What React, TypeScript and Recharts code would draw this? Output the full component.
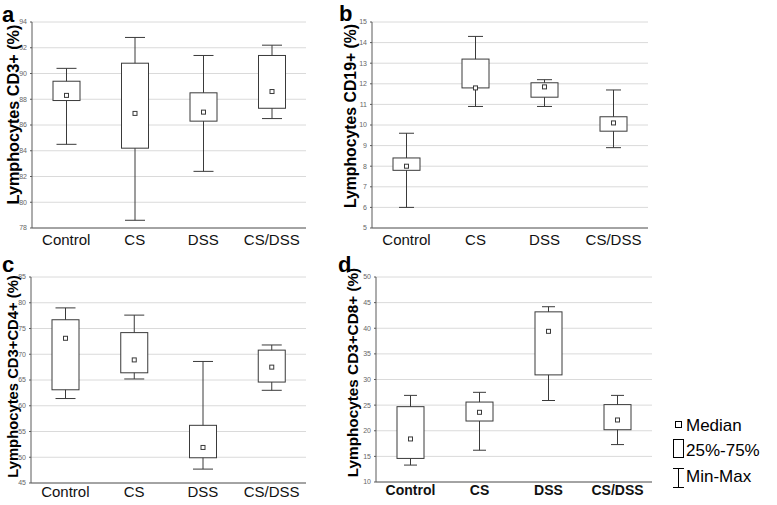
import React from "react";
import { ComposedChart, Bar, XAxis, YAxis, CartesianGrid } from "recharts";

const groups = ["Control", "CS", "DSS", "CS/DSS"];

// each row: [min, q1, median, q3, max]
const cd3Stats = [
  [84.5, 87.9, 88.3, 89.4, 90.4],
  [78.6, 84.2, 86.9, 90.8, 92.8],
  [82.4, 86.3, 87.0, 88.5, 91.4],
  [86.5, 87.3, 88.6, 91.4, 92.2],
];
const cd19Stats = [
  [6.0, 7.8, 8.0, 8.4, 9.6],
  [10.9, 11.8, 11.8, 13.2, 14.3],
  [10.9, 11.35, 11.85, 12.05, 12.2],
  [8.9, 9.7, 10.1, 10.4, 11.7],
];
const cd4Stats = [
  [61.4, 63.1, 73.1, 76.7, 79.0],
  [65.2, 66.4, 68.9, 74.2, 77.6],
  [47.7, 49.9, 51.9, 56.2, 68.6],
  [63.0, 64.6, 67.5, 70.8, 71.8],
];
const cd8Stats = [
  [13.3, 14.6, 18.4, 24.7, 26.9],
  [16.2, 21.9, 23.6, 25.6, 27.5],
  [25.9, 30.9, 39.4, 43.2, 44.2],
  [17.3, 20.2, 22.1, 25.1, 26.9],
];

const cd3Ticks = [78, 80, 82, 84, 86, 88, 90, 92, 94];
const cd19Ticks = [5, 6, 7, 8, 9, 10, 11, 12, 13, 14, 15];
const cd4Ticks = [45, 50, 55, 60, 65, 70, 75, 80, 85];
const cd8Ticks = [10, 15, 20, 25, 30, 35, 40, 45, 50];

const FONT = '"Liberation Sans", Arial, sans-serif';
const INK = "#3a3a3a";
const FRAME = "#5a5a5a";

const makeBox = (capW: number) => (props: any) => {
  const { x, y, width, height, payload } = props;
  const [min, q1, med, q3, max] = payload.stats;
  const top = Math.min(y, y + height);
  const h = Math.abs(height);
  const py = (v: number) => top + ((max - v) / (max - min)) * h;
  const cx = x + width / 2;
  return (
    <g stroke={INK} strokeWidth={1} fill="#fff">
      <line x1={cx} x2={cx} y1={py(max)} y2={py(min)} />
      <line x1={cx - capW / 2} x2={cx + capW / 2} y1={py(max)} y2={py(max)} />
      <line x1={cx - capW / 2} x2={cx + capW / 2} y1={py(min)} y2={py(min)} />
      <rect x={x} y={py(q3)} width={width} height={py(q1) - py(q3)} />
      <rect x={cx - 2} y={py(med) - 2} width={4} height={4} />
    </g>
  );
};

function Panel({
  plot,
  stats,
  ticks,
  capW,
  xGap,
  boldX = false,
}: {
  plot: { l: number; t: number; r: number; b: number };
  stats: number[][];
  ticks: number[];
  capW: number;
  xGap: number;
  boldX?: boolean;
}) {
  const padL = 34;
  const padT = 8;
  const padR = 6;
  const xH = 24;
  const width = plot.r - plot.l + padL + padR;
  const height = plot.b - plot.t + padT + xH;
  const data = groups.map((g, i) => ({ name: g, range: [stats[i][0], stats[i][4]], stats: stats[i] }));
  const domain = [ticks[0], ticks[ticks.length - 1]];
  return (
    <div style={{ position: "absolute", left: plot.l - padL, top: plot.t - padT }}>
      <ComposedChart width={width} height={height} data={data} margin={{ top: padT, right: padR, bottom: 0, left: 0 }}>
        <CartesianGrid xAxisId="bottom" yAxisId="left" vertical={false} stroke="#dadada" />
        <XAxis
          xAxisId="bottom"
          dataKey="name"
          height={xH}
          tickLine={false}
          tickSize={0}
          tickMargin={xGap}
          interval={0}
          axisLine={{ stroke: FRAME }}
          tick={{ fontSize: boldX ? 14 : 15, fill: "#111", fontWeight: boldX ? 700 : 400, fontFamily: FONT }}
        />
        <XAxis
          xAxisId="top"
          dataKey="name"
          orientation="top"
          height={0}
          mirror
          tickSize={2}
          tickFormatter={() => ""}
          axisLine={{ stroke: FRAME }}
          tickLine={{ stroke: FRAME }}
        />
        <YAxis
          yAxisId="left"
          width={padL}
          domain={domain}
          ticks={ticks}
          interval={0}
          allowDataOverflow
          tickSize={2}
          tickMargin={3}
          axisLine={{ stroke: FRAME }}
          tickLine={{ stroke: FRAME }}
          tick={{ fontSize: 7, fill: "#666", fontFamily: FONT }}
        />
        <YAxis
          yAxisId="right"
          orientation="right"
          width={0}
          mirror
          domain={domain}
          ticks={ticks}
          interval={0}
          allowDataOverflow
          tickSize={2}
          tickFormatter={() => ""}
          axisLine={{ stroke: FRAME }}
          tickLine={{ stroke: FRAME }}
        />
        <Bar
          xAxisId="bottom"
          yAxisId="left"
          dataKey="range"
          barSize={27}
          shape={makeBox(capW)}
          isAnimationActive={false}
        />
      </ComposedChart>
    </div>
  );
}

function Overlay() {
  const letter = { fontSize: 22, fontWeight: 700, fill: "#000" };
  const title = (size: number) => ({ fontSize: size, fontWeight: 700, fill: "#000" });
  const legendText = { fontSize: 17, fill: "#000" };
  return (
    <svg
      width={777}
      height={505}
      style={{ position: "absolute", left: 0, top: 0, pointerEvents: "none", fontFamily: FONT }}
    >
      <text x={2} y={22} style={letter}>a</text>
      <text x={339} y={21} style={letter}>b</text>
      <text x={2} y={272} style={letter}>c</text>
      <text x={338} y={272} style={letter}>d</text>

      <text transform="translate(18.5,114.5) rotate(-90)" textAnchor="middle" style={title(16.2)}>Lymphocytes CD3+ (%)</text>
      <text transform="translate(355.5,116) rotate(-90)" textAnchor="middle" style={title(15.8)}>Lymphocytes CD19+ (%)</text>
      <text transform="translate(18,376.5) rotate(-90)" textAnchor="middle" style={title(14.8)}>Lymphocytes CD3+CD4+ (%)</text>
      <text transform="translate(358,372.5) rotate(-90)" textAnchor="middle" style={title(15.3)}>Lymphocytes CD3+CD8+ (%)</text>

      <g stroke="#000" strokeWidth={1} fill="#fff">
        <rect x={675.5} y={421.5} width={6} height={6} />
        <rect x={673.5} y={439.5} width={10} height={18} />
        <line x1={678.5} x2={678.5} y1={468} y2={488} />
        <line x1={673} x2={684} y1={468.5} y2={468.5} />
        <line x1={673} x2={684} y1={487.5} y2={487.5} />
      </g>
      <text x={686} y={431} style={legendText}>Median</text>
      <text x={686} y={456} style={legendText}>25%-75%</text>
      <text x={686} y={482} style={legendText}>Min-Max</text>
    </svg>
  );
}

export default function App() {
  return (
    <div style={{ position: "absolute", left: 0, top: 0, width: 777, height: 505, background: "#fff", fontFamily: FONT }}>
      <Panel plot={{ l: 32, t: 22, r: 306, b: 228 }} stats={cd3Stats} ticks={cd3Ticks} capW={20} xGap={6} />
      <Panel plot={{ l: 372, t: 22, r: 648, b: 228 }} stats={cd19Stats} ticks={cd19Ticks} capW={15} xGap={6} />
      <Panel plot={{ l: 31, t: 277, r: 306, b: 483 }} stats={cd4Stats} ticks={cd4Ticks} capW={20} xGap={3} />
      <Panel plot={{ l: 376, t: 277, r: 652, b: 482 }} stats={cd8Stats} ticks={cd8Ticks} capW={13} xGap={3} boldX />
      <Overlay />
    </div>
  );
}
